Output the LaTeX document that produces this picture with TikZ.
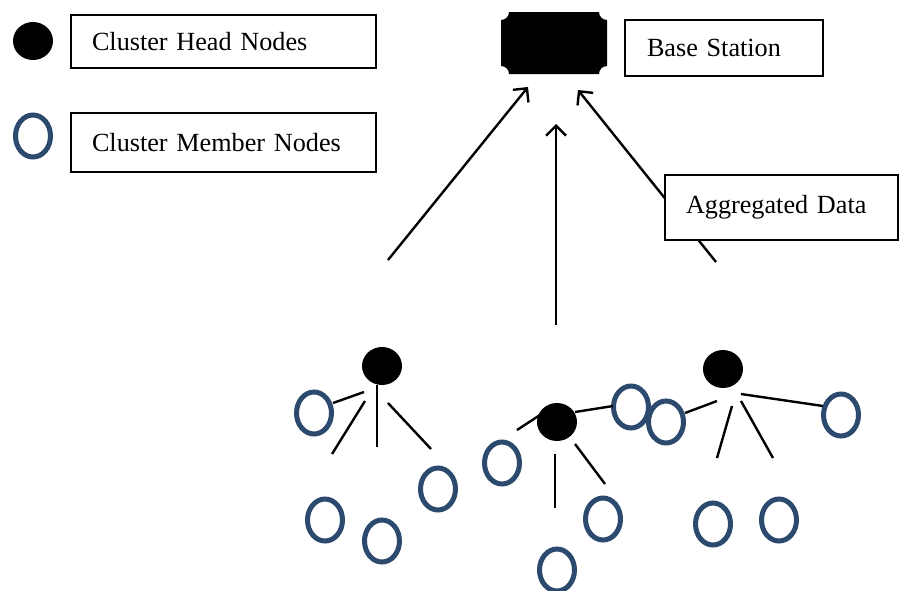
\documentclass[tikz,border=0pt]{standalone}
\usepackage{fontspec}
\setmainfont{Liberation Serif}
\usetikzlibrary{shapes.geometric,arrows.meta}
\definecolor{memberblue}{HTML}{2B4A6E}
\begin{document}
\begin{tikzpicture}[x=1pt,y=-1pt,
  chead/.style={ellipse,fill=black,minimum width=40pt,minimum height=38pt,inner sep=0pt},
  member/.style={ellipse,draw=memberblue,line width=5pt,minimum width=35pt,minimum height=42pt,inner sep=0pt},
  textbox/.style={draw=black,line width=1.2pt,fill=white,rectangle,inner sep=0pt,align=left,font=\fontsize{26.2}{30}\selectfont},
  link/.style={line width=2.4pt},
  uparrow/.style={line width=2.4pt,-{Straight Barb[length=10pt,width=20pt]}}]
\useasboundingbox (0,0) rectangle (899,590);

% legend
\node[chead] (lhead) at (33,41) {};
\node[textbox,minimum width=305pt,minimum height=53pt,text width=263pt] (lheadbox) at (223.5,41.5) {Cluster Head Nodes};
\node[member] (lmem) at (33,136) {};
\node[textbox,minimum width=305pt,minimum height=59pt,text width=263pt] (lmembox) at (223.5,142.5) {Cluster Member Nodes};

% base station
\fill[black] (509,12) -- (599,12) arc[start angle=180,end angle=90,radius=8]
  -- (607,66) arc[start angle=270,end angle=180,radius=8]
  -- (509,74) arc[start angle=0,end angle=-90,radius=8]
  -- (501,20) arc[start angle=90,end angle=0,radius=8] -- cycle;
\node[textbox,minimum width=198pt,minimum height=56pt,text width=154pt] (bsbox) at (724,48) {Base Station};

% arrows
\coordinate (a1s) at (388,260); \coordinate (a1e) at (528,87);
\coordinate (a2s) at (556,325); \coordinate (a2e) at (556,124);
\coordinate (a3s) at (716,262); \coordinate (a3e) at (578,90);
\draw[uparrow] (a1s) -- (a1e);
\draw[uparrow] (a2s) -- (a2e);
\draw[uparrow] (a3s) -- (a3e);
\node[textbox,minimum width=233pt,minimum height=65pt,text width=191pt] (aggbox) at (781.5,207.5) {Aggregated Data};

% cluster 1
\node[chead] (h1) at (382,366) {};
\node[member] (m11) at (314,413) {};
\node[member] (m12) at (325,520) {};
\node[member] (m13) at (382,541) {};
\node[member] (m14) at (438,489) {};
\draw[link] (364,392) -- (333,403);
\draw[link] (365,401) -- (332,454);
\draw[link] (377,385) -- (377,447);
\draw[link] (388,403) -- (431,449);

% cluster 2
\node[chead] (h2) at (557,422) {};
\node[member] (m21) at (502,463) {};
\node[member] (m22) at (631,407) {};
\node[member] (m23) at (603,519) {};
\node[member] (m24) at (557,570) {};
\draw[link] (517,430) -- (540,415);
\draw[link] (575,412) -- (613,406);
\draw[link] (555,454) -- (555,508);
\draw[link] (575,444) -- (605,484);

% cluster 3
\node[chead] (h3) at (723,369) {};
\node[member] (m31) at (666,422) {};
\node[member] (m32) at (841,415) {};
\node[member] (m33) at (713,524) {};
\node[member] (m34) at (779,520) {};
\draw[link] (717,401) -- (685,413);
\draw[link] (732,406) -- (717,458);
\draw[link] (741,401) -- (773,458);
\draw[link] (741,394) -- (823,406);
\end{tikzpicture}
\end{document}
